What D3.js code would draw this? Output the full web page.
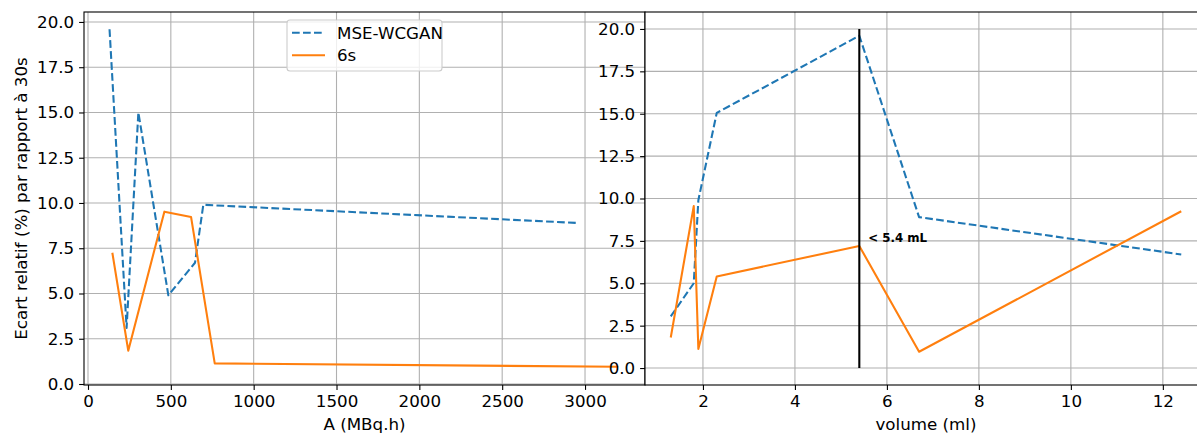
<!DOCTYPE html>
<html>
<head>
<meta charset="utf-8">
<script src="https://cdn.jsdelivr.net/npm/d3@7"></script>
<style>
  body { margin: 0; background: #fff; }
  svg { display: block; font-family: "DejaVu Sans", sans-serif; }
</style>
</head>
<body>
<svg id="chart" width="1197" height="433"></svg>
<script>
// ---- Data ----
const seriesNames = ["MSE-WCGAN", "6s"];
// Left panel: activity A (MBq.h)
const leftWcganA   = [130, 233, 304, 485, 646, 696, 2945];
const leftWcganY   = [19.6, 3.1, 15.0, 4.9, 6.7, 9.9, 8.9];
const left6sA      = [147, 243, 461, 622, 765, 3200];
const left6sY      = [7.25, 1.84, 9.52, 9.23, 1.14, 0.95];
// Right panel: volume (ml)
const rightVolume  = [1.3, 1.8, 1.9, 2.3, 5.4, 6.7, 12.4];
const rightWcganY  = [3.05, 5.0, 9.9, 15.05, 19.6, 8.9, 6.7];
const right6sY     = [1.8, 9.55, 1.12, 5.4, 7.2, 0.96, 9.25];
// Threshold line
const thresholdX = 5.4;
const thresholdY = [0, 20];
const thresholdLabel = "< 5.4 mL";
// Ticks
const leftXTicks  = [0, 500, 1000, 1500, 2000, 2500, 3000];
const rightXTicks = [2, 4, 6, 8, 10, 12];
const yTicks      = [0, 2.5, 5, 7.5, 10, 12.5, 15, 17.5, 20];
const xLabelLeft  = "A (MBq.h)";
const xLabelRight = "volume (ml)";
const yLabel      = "Ecart relatif (%) par rapport à 30s";

// ---- Style ----
const C_BLUE = "#1f77b4", C_ORANGE = "#ff7f0e";
const LW = 2.08, FS = 16.7, TICK = 4.9, PAD = 4.9;
const GRID = "#b0b0b0";

const svg = d3.select("#chart");

// Panel geometry
const L = { x0: 84, x1: 645, y0: 12, y1: 385 };
const R = { x0: 645, x1: 1207, y0: 12, y1: 385 };

const xL = d3.scaleLinear().domain([-24.1, 3362]).range([L.x0, L.x1]);
const yL = d3.scaleLinear().domain([-0.055, 20.55]).range([L.y1, L.y0]);
const xR = d3.scaleLinear().domain([0.74, 12.96]).range([R.x0, R.x1]);
const yR = d3.scaleLinear().domain([-1.0, 21.0]).range([R.y1, R.y0]);

const defs = svg.append("defs");
defs.append("clipPath").attr("id", "clipL").append("rect")
  .attr("x", L.x0).attr("y", L.y0).attr("width", L.x1 - L.x0).attr("height", L.y1 - L.y0);
defs.append("clipPath").attr("id", "clipR").append("rect")
  .attr("x", R.x0).attr("y", R.y0).attr("width", R.x1 - R.x0).attr("height", R.y1 - R.y0);

function drawPanel(P, x, y, xTicks, clipId) {
  const g = svg.append("g");
  g.append("rect").attr("x", P.x0).attr("y", P.y0)
    .attr("width", P.x1 - P.x0).attr("height", P.y1 - P.y0).attr("fill", "#fff");
  // grid
  const grid = g.append("g").attr("clip-path", `url(#${clipId})`);
  grid.selectAll(".gx").data(xTicks).join("line")
    .attr("x1", d => x(d)).attr("x2", d => x(d))
    .attr("y1", P.y0).attr("y2", P.y1)
    .attr("stroke", GRID).attr("stroke-width", 1.1);
  grid.selectAll(".gy").data(yTicks).join("line")
    .attr("x1", P.x0).attr("x2", P.x1)
    .attr("y1", d => y(d)).attr("y2", d => y(d))
    .attr("stroke", GRID).attr("stroke-width", 1.1);
  return g;
}

function drawLine(g, xs, ys, x, y, color, dashed, clipId) {
  const pts = xs.map((v, i) => [v, ys[i]]);
  g.append("path").datum(pts)
    .attr("clip-path", `url(#${clipId})`)
    .attr("fill", "none").attr("stroke", color).attr("stroke-width", LW)
    .attr("stroke-linejoin", "round")
    .attr("stroke-dasharray", dashed ? "7.7,3.3" : null)
    .attr("d", d3.line().x(d => x(d[0])).y(d => y(d[1])));
}

function drawAxes(P, x, y, xTicks, xFmt) {
  const ax = svg.append("g").attr("transform", `translate(0,${P.y1})`)
    .call(d3.axisBottom(x).tickValues(xTicks).tickFormat(xFmt).tickSize(TICK).tickPadding(PAD));
  const ay = svg.append("g").attr("transform", `translate(${P.x0},0)`)
    .call(d3.axisLeft(y).tickValues(yTicks).tickFormat(d3.format(".1f")).tickSize(TICK).tickPadding(PAD));
  [ax, ay].forEach(a => {
    a.select(".domain").remove();
    a.selectAll(".tick line").attr("stroke", "#000").attr("stroke-width", 1.1);
    a.selectAll(".tick text").attr("fill", "#000").style("font-size", FS + "px")
      .style("font-family", "DejaVu Sans, sans-serif");
  });
  // spines
  svg.append("rect").attr("x", P.x0).attr("y", P.y0)
    .attr("width", P.x1 - P.x0).attr("height", P.y1 - P.y0)
    .attr("fill", "none").attr("stroke", "#000").attr("stroke-width", 1.1);
}

// ---- Left panel ----
const gL = drawPanel(L, xL, yL, leftXTicks, "clipL");
drawLine(gL, leftWcganA, leftWcganY, xL, yL, C_BLUE, true, "clipL");
drawLine(gL, left6sA, left6sY, xL, yL, C_ORANGE, false, "clipL");
drawAxes(L, xL, yL, leftXTicks, d3.format("d"));

// legend
const lg = svg.append("g");
lg.append("rect").attr("x", 287).attr("y", 20).attr("width", 155).attr("height", 51)
  .attr("rx", 3).attr("fill", "#fff").attr("fill-opacity", 0.8)
  .attr("stroke", "#cccccc").attr("stroke-width", 1.1);
const legendItems = [
  { name: seriesNames[0], color: C_BLUE, dashed: true },
  { name: seriesNames[1], color: C_ORANGE, dashed: false }
];
legendItems.forEach((it, i) => {
  const yy = 32.7 + i * 22.5;
  lg.append("line").attr("x1", 292).attr("x2", 325).attr("y1", yy).attr("y2", yy)
    .attr("stroke", it.color).attr("stroke-width", LW)
    .attr("stroke-dasharray", it.dashed ? "7.7,3.3" : null);
  lg.append("text").attr("x", 337).attr("y", yy).attr("dy", "0.36em")
    .style("font-size", FS + "px").attr("fill", "#000").text(it.name);
});

// ---- Right panel ----
const gR = drawPanel(R, xR, yR, rightXTicks, "clipR");
drawLine(gR, rightVolume, rightWcganY, xR, yR, C_BLUE, true, "clipR");
drawLine(gR, rightVolume, right6sY, xR, yR, C_ORANGE, false, "clipR");
gR.append("line")
  .attr("x1", xR(thresholdX)).attr("x2", xR(thresholdX))
  .attr("y1", yR(thresholdY[0])).attr("y2", yR(thresholdY[1]))
  .attr("stroke", "#000").attr("stroke-width", LW);
gR.append("text").attr("x", xR(thresholdX) + 9).attr("y", yR(7.7))
  .attr("dy", "0.36em").style("font-size", "11.8px").style("font-weight", "bold")
  .attr("fill", "#000").text(thresholdLabel);
drawAxes(R, xR, yR, rightXTicks, d3.format("d"));

// ---- Axis labels ----
svg.append("text").attr("x", (L.x0 + L.x1) / 2).attr("y", 430)
  .attr("text-anchor", "middle").style("font-size", FS + "px").text(xLabelLeft);
svg.append("text").attr("x", (R.x0 + R.x1) / 2).attr("y", 430)
  .attr("text-anchor", "middle").style("font-size", FS + "px").text(xLabelRight);
svg.append("text")
  .attr("transform", `translate(26.5,${(L.y0 + L.y1) / 2}) rotate(-90)`)
  .attr("text-anchor", "middle").style("font-size", FS + "px").text(yLabel);
</script>
</body>
</html>
